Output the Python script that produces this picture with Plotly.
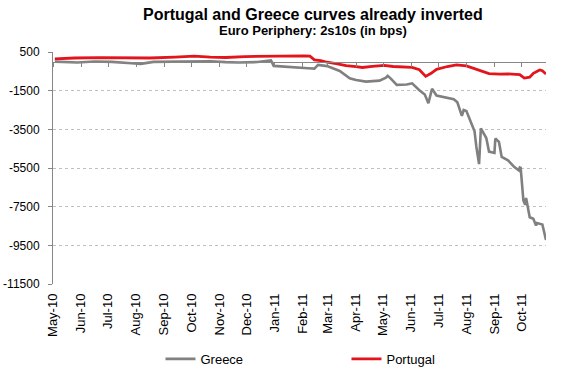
import plotly.graph_objects as go

# ---------------- data ----------------
greece_dates = [
    "2010-05-03", "2010-05-14", "2010-05-28", "2010-06-16", "2010-07-05", "2010-07-27",
    "2010-08-06", "2010-08-20", "2010-09-16", "2010-10-12", "2010-10-22", "2010-11-08",
    "2010-11-22", "2010-12-13", "2010-12-23", "2010-12-28", "2010-12-31", "2011-01-18",
    "2011-01-28", "2011-02-07", "2011-02-14", "2011-02-18", "2011-02-28", "2011-03-14",
    "2011-03-25", "2011-04-01", "2011-04-12", "2011-04-27", "2011-05-04", "2011-05-06",
    "2011-05-10", "2011-05-16", "2011-05-27", "2011-06-02", "2011-06-10", "2011-06-16",
    "2011-06-20", "2011-06-22", "2011-06-24", "2011-06-29", "2011-07-08", "2011-07-18",
    "2011-07-22", "2011-07-27", "2011-07-29", "2011-08-01", "2011-08-04", "2011-08-10",
    "2011-08-12", "2011-08-15", "2011-08-17", "2011-08-23", "2011-08-26", "2011-09-01",
    "2011-09-02", "2011-09-06", "2011-09-09", "2011-09-16", "2011-09-23", "2011-09-28",
    "2011-09-29", "2011-09-30", "2011-10-03", "2011-10-05", "2011-10-06", "2011-10-10",
    "2011-10-14", "2011-10-17", "2011-10-18", "2011-10-24", "2011-10-28",
]
greece_values = [
    0, -20, -45, 10, -10, -80,
    -115, -10, 10, 40, 25, -25,
    -45, -20, 40, 60, -220, -260,
    -290, -340, -360, -170, -230, -480,
    -860, -950, -1030, -980, -830, -730,
    -900, -1200, -1180, -1120, -1480, -1700,
    -2150, -1800, -1400, -1750, -1850, -1945,
    -2100, -2800, -2500, -2550, -2900, -3600,
    -4400, -5300, -3450, -3950, -4650, -4720,
    -3975, -4150, -4930, -5100, -5450, -5620,
    -5480, -5500, -7180, -7400, -7050, -8050,
    -8130, -8480, -8350, -8420, -9220,
]

portugal_dates = [
    "2010-05-03", "2010-05-25", "2010-06-22", "2010-07-20", "2010-08-16", "2010-09-13",
    "2010-10-04", "2010-10-22", "2010-11-08", "2010-11-29", "2010-12-21", "2011-01-18",
    "2011-02-03", "2011-02-09", "2011-02-14", "2011-02-21", "2011-02-28", "2011-03-10",
    "2011-03-21", "2011-04-01", "2011-04-08", "2011-04-19", "2011-05-02", "2011-05-12",
    "2011-05-23", "2011-06-02", "2011-06-10", "2011-06-17", "2011-06-23", "2011-06-29",
    "2011-07-11", "2011-07-21", "2011-08-01", "2011-08-10", "2011-08-18", "2011-08-26",
    "2011-09-07", "2011-09-16", "2011-09-29", "2011-10-04", "2011-10-10", "2011-10-14",
    "2011-10-21", "2011-10-24", "2011-10-28",
]
portugal_values = [
    140, 190, 210, 195, 190, 240,
    290, 240, 215, 265, 285, 280,
    300, 290, 95, 60, -30, -100,
    -200, -260, -300, -240, -190, -250,
    -260, -300, -420, -760, -600, -400,
    -250, -170, -220, -350, -480, -620,
    -640, -630, -670, -850, -800, -600,
    -430, -470, -640,
]

month_ticks = [
    "2010-05-01", "2010-06-01", "2010-07-01", "2010-08-01", "2010-09-01", "2010-10-01",
    "2010-11-01", "2010-12-01", "2011-01-01", "2011-02-01", "2011-03-01", "2011-04-01",
    "2011-05-01", "2011-06-01", "2011-07-01", "2011-08-01", "2011-09-01", "2011-10-01",
]
month_labels = [
    "May-10", "Jun-10", "Jul-10", "Aug-10", "Sep-10", "Oct-10", "Nov-10", "Dec-10",
    "Jan-11", "Feb-11", "Mar-11", "Apr-11", "May-11", "Jun-11", "Jul-11", "Aug-11",
    "Sep-11", "Oct-11",
]
y_tick_values = [500, -1500, -3500, -5500, -7500, -9500, -11500]
y_tick_labels = ["500", "-1500", "-3500", "-5500", "-7500", "-9500", "-11500"]

title_text = "Portugal and Greece curves already inverted"
subtitle_text = "Euro Periphery: 2s10s (in bps)"

# ---------------- figure ----------------
FONT = "Liberation Sans, Arial, sans-serif"
AXIS_GREY = "#868686"
X_RANGE = ["2010-05-01", "2011-10-28"]
Y_RANGE = [-11500, 500]

# fraction of the plot height at which the value 0 sits (x axis crosses there)
zero_pos = (0 - Y_RANGE[0]) / (Y_RANGE[1] - Y_RANGE[0])

fig = go.Figure()

# transparent helper trace that makes the zero-crossing axis (x2/y2) get drawn
fig.add_trace(go.Scatter(
    x=portugal_dates, y=portugal_values, xaxis="x2", yaxis="y2",
    mode="lines", line=dict(color="rgba(0,0,0,0)", width=0),
    showlegend=False, hoverinfo="skip",
))
fig.add_trace(go.Scatter(
    x=greece_dates, y=greece_values, name="Greece", xaxis="x", yaxis="y",
    mode="lines", line=dict(color="#808080", width=2.6),
))
fig.add_trace(go.Scatter(
    x=portugal_dates, y=portugal_values, name="Portugal", xaxis="x", yaxis="y",
    mode="lines", line=dict(color="#E3141B", width=2.8),
))

fig.update_layout(
    width=562, height=370,
    margin=dict(l=53, r=16, t=52, b=86, autoexpand=False),
    paper_bgcolor="white", plot_bgcolor="rgba(0,0,0,0)",
    font=dict(family=FONT, color="#000000", size=12),
    showlegend=True,
    legend=dict(
        orientation="h", x=0.218, xanchor="left", y=-0.323, yanchor="middle",
        font=dict(family=FONT, size=13, color="#000000"),
        entrywidth=141, entrywidthmode="pixels",
        bgcolor="rgba(0,0,0,0)", traceorder="normal",
    ),
    xaxis=dict(
        type="date", range=X_RANGE, anchor="y",
        tickvals=month_ticks, ticktext=month_labels,
        tickangle=-90, tickfont=dict(family=FONT, size=13, color="#000000"),
        showgrid=False, showline=False, zeroline=False, ticks="",
        ticklabelstandoff=6, automargin=False,
    ),
    xaxis2=dict(
        type="date", range=X_RANGE, anchor="y2",
        showline=True, linecolor=AXIS_GREY, linewidth=1,
        ticks="outside", ticklen=4, tickcolor=AXIS_GREY, tickwidth=1,
        tickvals=month_ticks, showticklabels=False,
        showgrid=False, zeroline=False, automargin=False,
    ),
    yaxis=dict(
        range=Y_RANGE, domain=[0, 1], anchor="x",
        tickvals=y_tick_values, ticktext=y_tick_labels,
        tickfont=dict(family=FONT, size=12, color="#000000"),
        showgrid=True, gridcolor="#BFBFBF", gridwidth=1, griddash="dot",
        showline=True, linecolor=AXIS_GREY, linewidth=1,
        ticks="outside", ticklen=4, tickcolor=AXIS_GREY,
        zeroline=False, ticklabelstandoff=6, automargin=False,
    ),
    yaxis2=dict(
        range=[0, Y_RANGE[1]], domain=[zero_pos, 1], anchor="x2",
        visible=False, showgrid=False, zeroline=False,
    ),
    annotations=[
        dict(text="<b>" + title_text + "</b>", xref="paper", yref="paper",
             x=0.527, y=1.1625, xanchor="center", yanchor="middle", showarrow=False,
             font=dict(family=FONT, size=16, color="#000000")),
        dict(text="<b>" + subtitle_text + "</b>", xref="paper", yref="paper",
             x=0.527, y=1.094, xanchor="center", yanchor="middle", showarrow=False,
             font=dict(family=FONT, size=13, color="#000000")),
    ],
)

fig.write_html(
    "out.html",
    config={"displayModeBar": False},
    post_script="document.body.style.margin='0';",
)
